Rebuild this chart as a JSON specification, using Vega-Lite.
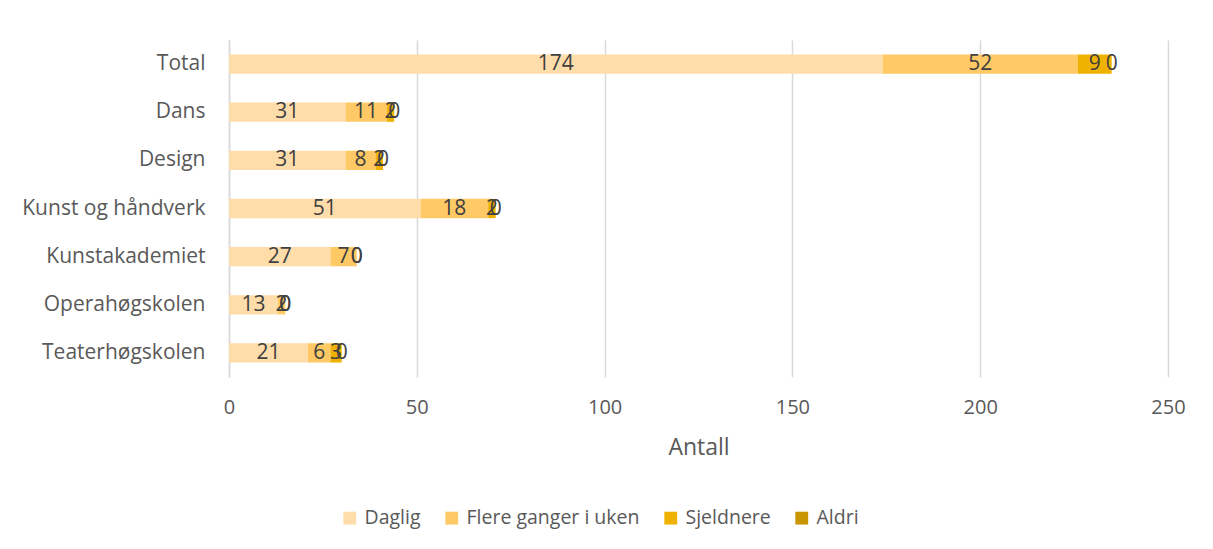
{
  "$schema": "https://vega.github.io/schema/vega-lite/v6.json",
  "width": 939,
  "height": 337,
  "autosize": "none",
  "padding": {"left": 229, "top": 40, "right": 45, "bottom": 172},
  "background": "white",
  "data": {"values": [
    {"cat": "Total", "Daglig": 174, "Flere ganger i uken": 52, "Sjeldnere": 9, "Aldri": 0},
    {"cat": "Dans", "Daglig": 31, "Flere ganger i uken": 11, "Sjeldnere": 2, "Aldri": 0},
    {"cat": "Design", "Daglig": 31, "Flere ganger i uken": 8, "Sjeldnere": 2, "Aldri": 0},
    {"cat": "Kunst og håndverk", "Daglig": 51, "Flere ganger i uken": 18, "Sjeldnere": 2, "Aldri": 0},
    {"cat": "Kunstakademiet", "Daglig": 27, "Flere ganger i uken": 7, "Sjeldnere": 0, "Aldri": 0},
    {"cat": "Operahøgskolen", "Daglig": 13, "Flere ganger i uken": 2, "Sjeldnere": 0, "Aldri": 0},
    {"cat": "Teaterhøgskolen", "Daglig": 21, "Flere ganger i uken": 6, "Sjeldnere": 3, "Aldri": 0}
  ]},
  "transform": [
    {"fold": ["Daglig", "Flere ganger i uken", "Sjeldnere", "Aldri"], "as": ["serie", "antall"]},
    {"stack": "antall", "groupby": ["cat"], "as": ["x0", "x1"]}
  ],
  "config": {
    "font": "Open Sans",
    "view": {"stroke": null},
    "axis": {"labelColor": "#595959", "titleColor": "#595959", "labelFont": "Open Sans", "titleFont": "Open Sans"}
  },
  "layer": [
    {
      "mark": {"type": "bar"},
      "encoding": {
        "y": {"field": "cat", "type": "nominal", "sort": null,
          "scale": {"paddingInner": 0.6, "paddingOuter": 0.3},
          "axis": {"title": null, "labelFontSize": 21, "labelLimit": 0, "labelPadding": 24, "ticks": false, "domain": true, "domainColor": "#d9d9d9", "domainWidth": 1.5}},
        "x": {"field": "x0", "type": "quantitative",
          "scale": {"domain": [0, 250], "nice": false},
          "axis": {"title": "Antall", "values": [0, 50, 100, 150, 200, 250], "labelFlush": false, "labelFontSize": 20, "labelPadding": 20, "titleFontSize": 23, "titleFontWeight": "normal", "titlePadding": 19, "ticks": false, "domain": false, "grid": true, "gridColor": "#d9d9d9", "gridWidth": 1.5}},
        "x2": {"field": "x1"},
        "color": {"field": "serie", "type": "nominal",
          "scale": {"domain": ["Daglig", "Flere ganger i uken", "Sjeldnere", "Aldri"], "range": ["#FEDDAA", "#FFC966", "#F0B200", "#C89400"]},
          "legend": {"title": null, "orient": "none", "direction": "horizontal", "legendX": 111, "legendY": 468, "symbolType": "square", "symbolSize": 165, "symbolStrokeWidth": 0, "labelFontSize": 19.5, "labelLimit": 0, "labelColor": "#595959", "labelFont": "Open Sans", "columnPadding": 21, "labelOffset": 5}}
      }
    },
    {
      "transform": [
        {"fold": ["x0", "x1"], "as": ["edge", "pos"]},
        {"aggregate": [{"op": "mean", "field": "pos", "as": "mid"}], "groupby": ["cat", "serie", "antall"]}
      ],
      "mark": {"type": "text", "fontSize": 21, "color": "#404040", "font": "Open Sans"},
      "encoding": {
        "y": {"field": "cat", "type": "nominal", "sort": null},
        "x": {"field": "mid", "type": "quantitative"},
        "text": {"field": "antall", "type": "quantitative"}
      }
    }
  ]
}
